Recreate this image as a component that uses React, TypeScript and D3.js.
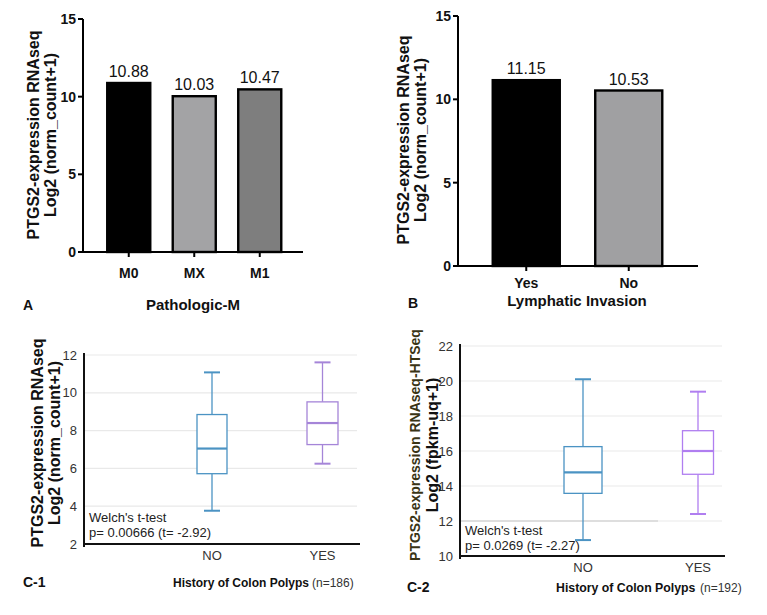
import React from "react";
import * as d3 from "d3";

const catsA = ["M0", "MX", "M1"];
const valsA = [10.88, 10.03, 10.47];
const fillsA = ["#000000", "#a3a3a5", "#7e7e7e"];

const catsB = ["Yes", "No"];
const valsB = [11.15, 10.53];
const fillsB = ["#000000", "#a0a0a2"];

const barTicks = [0, 5, 10, 15];

const boxCats = ["NO", "YES"];
// [min, q1, median, q3, max]
const boxC1 = [
  [3.76, 5.72, 7.05, 8.85, 11.08],
  [6.25, 7.26, 8.4, 9.52, 11.61],
];
const boxC2 = [
  [10.91, 13.58, 14.78, 16.25, 20.1],
  [12.4, 14.67, 16.0, 17.16, 19.39],
];
const ticksC1 = [2, 4, 6, 8, 10, 12];
const ticksC2 = [10, 12, 14, 16, 18, 20, 22];
const boxColors = ["#4b93c3", "#a585d8"];
const boxColors2 = ["#4b93c3", "#b07ef0"];

const FONT = "'Liberation Sans', Arial, sans-serif";

function BarPanel(props: any) {
  const { cats, vals, fills, x0, x1, y0, y1, xTitle, letter, letterX, letterY, xTitleY, catY, labelX1, labelX2, labelCY, bandRange, pad } = props;
  const y = d3.scaleLinear().domain([0, 15]).range([y0, y1]);
  const x = d3.scaleBand().domain(cats).range(bandRange).paddingInner(pad).paddingOuter(pad / 2);
  return (
    <g fontFamily={FONT}>
      {cats.map((c: string, i: number) => {
        const cx = (x(c) as number) + x.bandwidth() / 2;
        return (
          <g key={c}>
            <rect x={x(c)} y={y(vals[i])} width={x.bandwidth()} height={y(0) - y(vals[i])} fill={fills[i]} stroke="#000" strokeWidth={2.4} />
            <text x={cx} y={y(vals[i]) - 6} textAnchor="middle" fontSize={16} fill="#111">{vals[i].toFixed(2)}</text>
            <line x1={cx} x2={cx} y1={y0} y2={y0 + 5} stroke="#000" strokeWidth={2} />
            <text x={cx} y={catY} textAnchor="middle" fontSize={14} fontWeight="bold" fill="#111">{c}</text>
          </g>
        );
      })}
      <line x1={x0} x2={x0} y1={y1} y2={y0 + 1} stroke="#000" strokeWidth={2} />
      <line x1={x0 - 1} x2={x1} y1={y0} y2={y0} stroke="#000" strokeWidth={2} />
      {barTicks.map((t) => (
        <g key={t}>
          <line x1={x0 - 5} x2={x0} y1={y(t)} y2={y(t)} stroke="#000" strokeWidth={2} />
          <text x={x0 - 7} y={y(t) + 5} textAnchor="end" fontSize={14} fontWeight="bold" fill="#111">{t}</text>
        </g>
      ))}
      <g transform={`translate(${labelX1},${labelCY}) rotate(-90)`}>
        <text textAnchor="middle" fontSize={16} fontWeight="bold" fill="#111">PTGS2-expression RNAseq</text>
      </g>
      <g transform={`translate(${labelX2},${labelCY}) rotate(-90)`}>
        <text textAnchor="middle" fontSize={16} fontWeight="bold" fill="#111">Log2 (norm_count+1)</text>
      </g>
      <text x={props.xTitleX} y={xTitleY} textAnchor="middle" fontSize={15} fontWeight="bold" fill="#111">{xTitle}</text>
      <text x={letterX} y={letterY} fontSize={14} fontWeight="bold" fill="#111">{letter}</text>
    </g>
  );
}

function BoxPanel(props: any) {
  const { data, ticks, domain, x0, x1, y0, y1, centers, widths, colors, capW, label1, label2, label1Size, label1Color, labelX1, labelX2, labelCY, p, catY, letter, letterX, letterY, titleX, titleY, titleSize, nText, nX, welchY } = props;
  const y = d3.scaleLinear().domain(domain).range([y0, y1]);
  const x = d3.scalePoint().domain(boxCats).range(centers);
  return (
    <g fontFamily={FONT}>
      {ticks.slice(1).map((t: number) => (
        <line key={t} x1={x0} x2={x1 - 3} y1={y(t)} y2={y(t)} stroke="#e9e9e9" strokeWidth={1.2} />
      ))}
      {props.darkLen > 0 && (
        <line x1={x0} x2={x0 + props.darkLen} y1={y(ticks[1])} y2={y(ticks[1])} stroke="#c8c8c8" strokeWidth={1.2} />
      )}
      {data.map((d: number[], i: number) => {
        const cx = x(boxCats[i]) as number;
        const w = widths[i];
        const c = colors[i];
        return (
          <g key={i}>
            <line x1={cx} x2={cx} y1={y(d[4])} y2={y(d[3])} stroke={c} strokeWidth={1.3} />
            <line x1={cx} x2={cx} y1={y(d[1])} y2={y(d[0])} stroke={c} strokeWidth={1.3} />
            <line x1={cx - capW / 2} x2={cx + capW / 2} y1={y(d[4])} y2={y(d[4])} stroke={c} strokeWidth={2} />
            <line x1={cx - capW / 2} x2={cx + capW / 2} y1={y(d[0])} y2={y(d[0])} stroke={c} strokeWidth={2} />
            <rect x={cx - w / 2} y={y(d[3])} width={w} height={y(d[1]) - y(d[3])} fill="#fff" stroke={c} strokeWidth={1.3} />
            <line x1={cx - w / 2} x2={cx + w / 2} y1={y(d[2])} y2={y(d[2])} stroke={c} strokeWidth={2.2} />
            <text x={cx} y={catY} textAnchor="middle" fontSize={13} fill="#333">{boxCats[i]}</text>
          </g>
        );
      })}
      <line x1={x0} x2={x0} y1={y1 - 2} y2={y0 + 3} stroke="#111" strokeWidth={2} />
      <line x1={x0} x2={x1} y1={y0} y2={y0} stroke="#111" strokeWidth={2} />
      {ticks.map((t: number) => (
        <text key={t} x={x0 - 7} y={y(t) + 4.5} textAnchor="end" fontSize={13} fill="#333">{t}</text>
      ))}
      <text x={x0 + 5} y={welchY} fontSize={13} fill="#222">Welch's t-test</text>
      <text x={x0 + 5} y={welchY + 15} fontSize={13} fill="#222">{p}</text>
      <g transform={`translate(${labelX1},${labelCY}) rotate(-90)`}>
        <text textAnchor="middle" fontSize={label1Size} fontWeight="bold" fill={label1Color}>{label1}</text>
      </g>
      <g transform={`translate(${labelX2},${labelCY}) rotate(-90)`}>
        <text textAnchor="middle" fontSize={16} fontWeight="bold" fill="#111">{label2}</text>
      </g>
      <text x={letterX} y={letterY} fontSize={14} fontWeight="bold" fill="#111">{letter}</text>
      <text x={titleX} y={titleY} fontSize={titleSize} fontWeight="bold" fill="#111">History of Colon Polyps</text>
      <text x={nX} y={titleY} fontSize={12} fill="#333">{nText}</text>
    </g>
  );
}

export default function App() {
  return (
    <svg width={751} height={607} style={{ display: "block", background: "#fff" }} viewBox="8 8 751 607">
      <rect x={0} y={0} width={767} height={615} fill="#fff" />
      <BarPanel cats={catsA} vals={valsA} fills={fillsA}
        x0={83} x1={303} y0={252} y1={19} bandRange={[96, 292.5]} pad={0.343}
        xTitle="Pathologic-M" xTitleX={193} xTitleY={310} letter="A" letterX={23} letterY={310}
        catY={278} labelX1={39} labelX2={56} labelCY={135} />
      <BarPanel cats={catsB} vals={valsB} fills={fillsB}
        x0={458} x1={698} y0={266} y1={16} bandRange={[475, 680]} pad={0.346}
        xTitle="Lymphatic Invasion" xTitleX={577} xTitleY={306} letter="B" letterX={408} letterY={308}
        catY={288} labelX1={409} labelX2={426} labelCY={140} />
      <BoxPanel data={boxC1} ticks={ticksC1} domain={[2, 12]}
        x0={84} x1={360} y0={544} y1={355} centers={[212, 322.5]} widths={[30, 31]} colors={boxColors} capW={16}
        label1="PTGS2-expression RNAseq" label2="Log2 (norm_count+1)" label1Size={16} label1Color="#111"
        labelX1={43} labelX2={60} labelCY={443}
        p="p= 0.00666 (t= -2.92)" welchY={522} catY={560}
        letter="C-1" letterX={23} letterY={587} titleX={173} titleY={587} titleSize={12} nText="(n=186)" nX={312} darkLen={0} />
      <BoxPanel data={boxC2} ticks={ticksC2} domain={[10, 22]}
        x0={460} x1={725} y0={556} y1={346} centers={[583, 698]} widths={[38, 31]} colors={boxColors2} capW={16}
        label1="PTGS2-expression RNAseq-HTSeq" label2="Log2 (fpkm-uq+1)" label1Size={14} label1Color="#3a3415"
        labelX1={420} labelX2={438} labelCY={445}
        p="p= 0.0269 (t= -2.27)" welchY={535} catY={572}
        letter="C-2" letterX={407} letterY={592} titleX={556} titleY={592} titleSize={12.3} nText="(n=192)" nX={700} darkLen={198} />
    </svg>
  );
}
